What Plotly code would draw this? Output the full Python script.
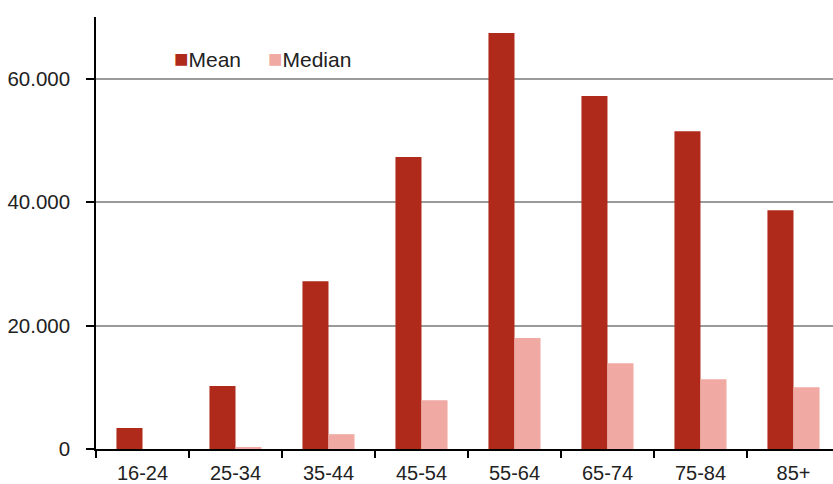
import plotly.graph_objects as go

categories = ["16-24", "25-34", "35-44", "45-54", "55-64", "65-74", "75-84", "85+"]
mean_values = [3400, 10200, 27200, 47300, 67400, 57200, 51500, 38700]
median_values = [0, 300, 2400, 7900, 18000, 13900, 11300, 10000]
y_tick_values = [0, 20000, 40000, 60000]

MEAN_COLOR = "#B02A1C"
MEDIAN_COLOR = "#F0AAA3"
FONT = "Liberation Sans, Arial, sans-serif"

fig = go.Figure()
fig.add_trace(go.Bar(name="Mean", x=categories, y=mean_values,
                     marker=dict(color=MEAN_COLOR, line=dict(width=0)), showlegend=False))
fig.add_trace(go.Bar(name="Median", x=categories, y=median_values,
                     marker=dict(color=MEDIAN_COLOR, line=dict(width=0)), showlegend=False))

# Legend drawn as text (Excel-style compact legend)
fig.add_annotation(xref="paper", yref="paper", x=0.103, y=0.905, xanchor="left", yanchor="middle",
                   showarrow=False,
                   text=f"<span style='color:{MEAN_COLOR};font-size:24px'>■</span>Mean",
                   font=dict(family=FONT, size=21, color="#222222"))
fig.add_annotation(xref="paper", yref="paper", x=0.231, y=0.905, xanchor="left", yanchor="middle",
                   showarrow=False,
                   text=f"<span style='color:{MEDIAN_COLOR};font-size:24px'>■</span>Median",
                   font=dict(family=FONT, size=21, color="#222222"))

fig.update_layout(
    width=833, height=484,
    margin=dict(l=96, r=0, t=17, b=35),
    paper_bgcolor="white", plot_bgcolor="white",
    barmode="group", bargap=0.44, bargroupgap=0,
    separators=",.",
    font=dict(family=FONT, size=20, color="#222222"),
    xaxis=dict(
        type="category", range=[-0.5, 7.425],
        showline=True, linecolor="black", linewidth=1.5,
        ticks="outside", tickson="boundaries", ticklen=7, tickwidth=1.5, tickcolor="black",
        showgrid=False, tickfont=dict(size=20), ticklabelstandoff=5,
    ),
    yaxis=dict(
        range=[0, 70000], tickvals=y_tick_values, tickformat=",",
        showline=True, linecolor="black", linewidth=1.5,
        ticks="outside", ticklen=8, tickwidth=1.5, tickcolor="black",
        showgrid=True, gridcolor="#9a9a9a", gridwidth=1.5,
        zeroline=False, ticklabelstandoff=12, tickfont=dict(size=20.5),
    ),
)

fig.write_html("out.html")
